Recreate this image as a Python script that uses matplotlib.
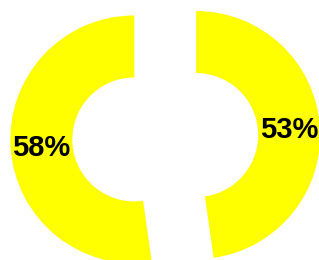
import matplotlib
matplotlib.use("Agg")
import matplotlib.pyplot as plt

values = [58, 53]
labels = ["58%", "53%"]
colors = ["#ffff00", "#ffff00"]

W, H = 319, 260
fig = plt.figure(figsize=(W / 100, H / 100), dpi=100)
ax = fig.add_axes([0, 0, 1, 1])

R = 124
total = sum(values)
wedges, texts, autotexts = ax.pie(
    values, radius=R, center=(165.25, 122.75), startangle=90,
    counterclock=True, explode=[0.25 * R, 0.25 * R], colors=colors,
    wedgeprops=dict(width=R / 2, linewidth=0),
    autopct=lambda p: f"{round(p * total / 100):.0f}%",
    pctdistance=0.75,
    textprops=dict(fontsize=21, fontweight="bold",
                   family=["Liberation Sans", "DejaVu Sans"], color="black"))
for t in autotexts:
    x, y = t.get_position()
    t.set_position((x, y - 2))
ax.set_xlim(0, W)
ax.set_ylim(0, H)
ax.set_aspect("equal")
ax.axis("off")
fig.savefig("out.png", dpi=100, facecolor="white")
